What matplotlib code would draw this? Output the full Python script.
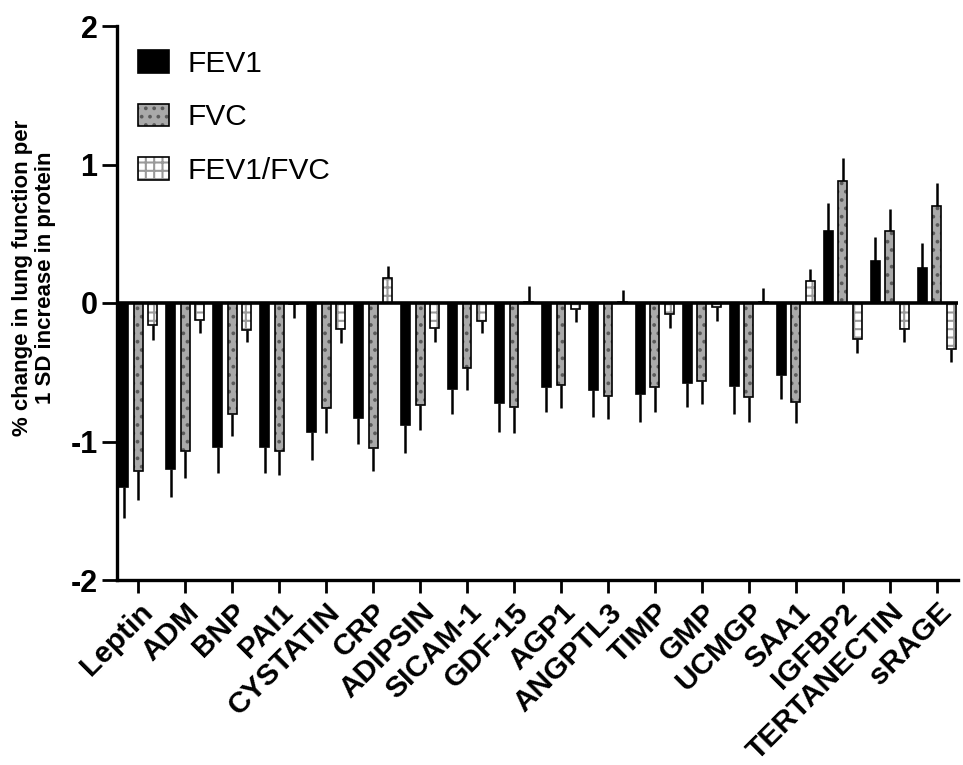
import numpy as np
import matplotlib.pyplot as plt
from matplotlib.patches import Patch

plt.rcParams['font.family'] = ['Liberation Sans', 'DejaVu Sans']
plt.rcParams['hatch.linewidth'] = 1.5
plt.rcParams['axes.unicode_minus'] = False

proteins = ["Leptin", "ADM", "BNP", "PAI1", "CYSTATIN", "CRP", "ADIPSIN", "SICAM-1",
            "GDF-15", "AGP1", "ANGPTL3", "TIMP", "GMP", "UCMGP", "SAA1", "IGFBP2",
            "TERTANECTIN", "sRAGE"]

fev1 = [-1.33, -1.20, -1.04, -1.04, -0.93, -0.83, -0.88, -0.62, -0.72, -0.61,
        -0.63, -0.66, -0.58, -0.60, -0.52, 0.52, 0.30, 0.25]
fev1_err = [0.22, 0.20, 0.19, 0.19, 0.20, 0.19, 0.20, 0.18, 0.21, 0.18,
            0.19, 0.20, 0.17, 0.20, 0.17, 0.20, 0.18, 0.18]

fvc = [-1.21, -1.07, -0.80, -1.07, -0.76, -1.05, -0.74, -0.47, -0.75, -0.59,
       -0.67, -0.605, -0.56, -0.68, -0.715, 0.88, 0.52, 0.70]
fvc_err = [0.21, 0.19, 0.16, 0.17, 0.18, 0.16, 0.18, 0.16, 0.19, 0.17,
           0.17, 0.18, 0.17, 0.18, 0.155, 0.17, 0.16, 0.165]

ratio = [-0.16, -0.12, -0.195, -0.01, -0.19, 0.18, -0.18, -0.13, 0.01, -0.04,
         0.005, -0.08, -0.03, 0.005, 0.16, -0.26, -0.19, -0.335]
ratio_err = [0.11, 0.10, 0.085, 0.10, 0.10, 0.085, 0.10, 0.09, 0.115, 0.095,
             0.09, 0.10, 0.10, 0.10, 0.085, 0.10, 0.09, 0.09]

x = np.arange(len(proteins))
w = 0.19
off = 0.31

fig = plt.figure(figsize=(9.63, 7.65), dpi=100)
ax = fig.add_axes([117 / 963, 1 - 580 / 765, (958 - 117) / 963, (580 - 26) / 765])

series = [
    ("FEV1", fev1, fev1_err, -off, "black", None, "black"),
    ("FVC", fvc, fvc_err, 0, "#a9a9a9", "..", "#5a5a5a"),
    ("FEV1/FVC", ratio, ratio_err, off, "white", "++", "#9a9a9a"),
]

handles = []
for name, vals, errs, dx, fc, hatch, hc in series:
    vals = np.array(vals)
    errs = np.array(errs)
    lo = np.where(vals < 0, errs, 0)
    hi = np.where(vals >= 0, errs, 0)
    ax.errorbar(x + dx, vals, yerr=[lo, hi], fmt="none", ecolor="black",
                elinewidth=1.8, capsize=0, zorder=1)
    ax.bar(x + dx, vals, w, color=fc, hatch=hatch, edgecolor=hc, linewidth=0, zorder=2)
    ax.bar(x + dx, vals, w, color="none", edgecolor="black", linewidth=1.2, zorder=3)
    p1 = Patch(facecolor=fc, hatch=hatch, edgecolor=hc, linewidth=0)
    p2 = Patch(facecolor="none", edgecolor="black", linewidth=1.2)
    handles.append((p1, p2))

ax.axhline(0, color="black", linewidth=2.6, zorder=4)

ax.set_xlim(-0.45, 17.45)
ax.set_ylim(-2, 2)
ax.set_yticks([-2, -1, 0, 1, 2])
ax.set_xticks(x)
ax.set_xticklabels(proteins, rotation=45, ha="right", rotation_mode="anchor",
                   fontsize=21.5, fontweight="bold")
for lab in ax.get_yticklabels():
    lab.set_fontweight("bold")
ax.tick_params(axis="y", labelsize=22, length=11, width=2, pad=3)
ax.tick_params(axis="x", length=9, width=2, pad=4)

for s in ["top", "right"]:
    ax.spines[s].set_visible(False)
ax.spines["left"].set_linewidth(2.4)
ax.spines["bottom"].set_linewidth(2.4)

ax.set_ylabel("% change in lung function per\n1 SD increase in protein",
              fontsize=16, fontweight="bold", linespacing=1.15)
ax.yaxis.set_label_coords(-0.072, 0.545)

ax.legend(handles, ["FEV1", "FVC", "FEV1/FVC"], loc="upper left",
          bbox_to_anchor=(138 / 963, 1 - 50 / 765), bbox_transform=fig.transFigure,
          frameon=False, fontsize=21.5, handlelength=1.05, handleheight=0.8,
          handletextpad=0.6, labelspacing=0.85, borderpad=0, borderaxespad=0)

fig.savefig("out.png", dpi=100)
